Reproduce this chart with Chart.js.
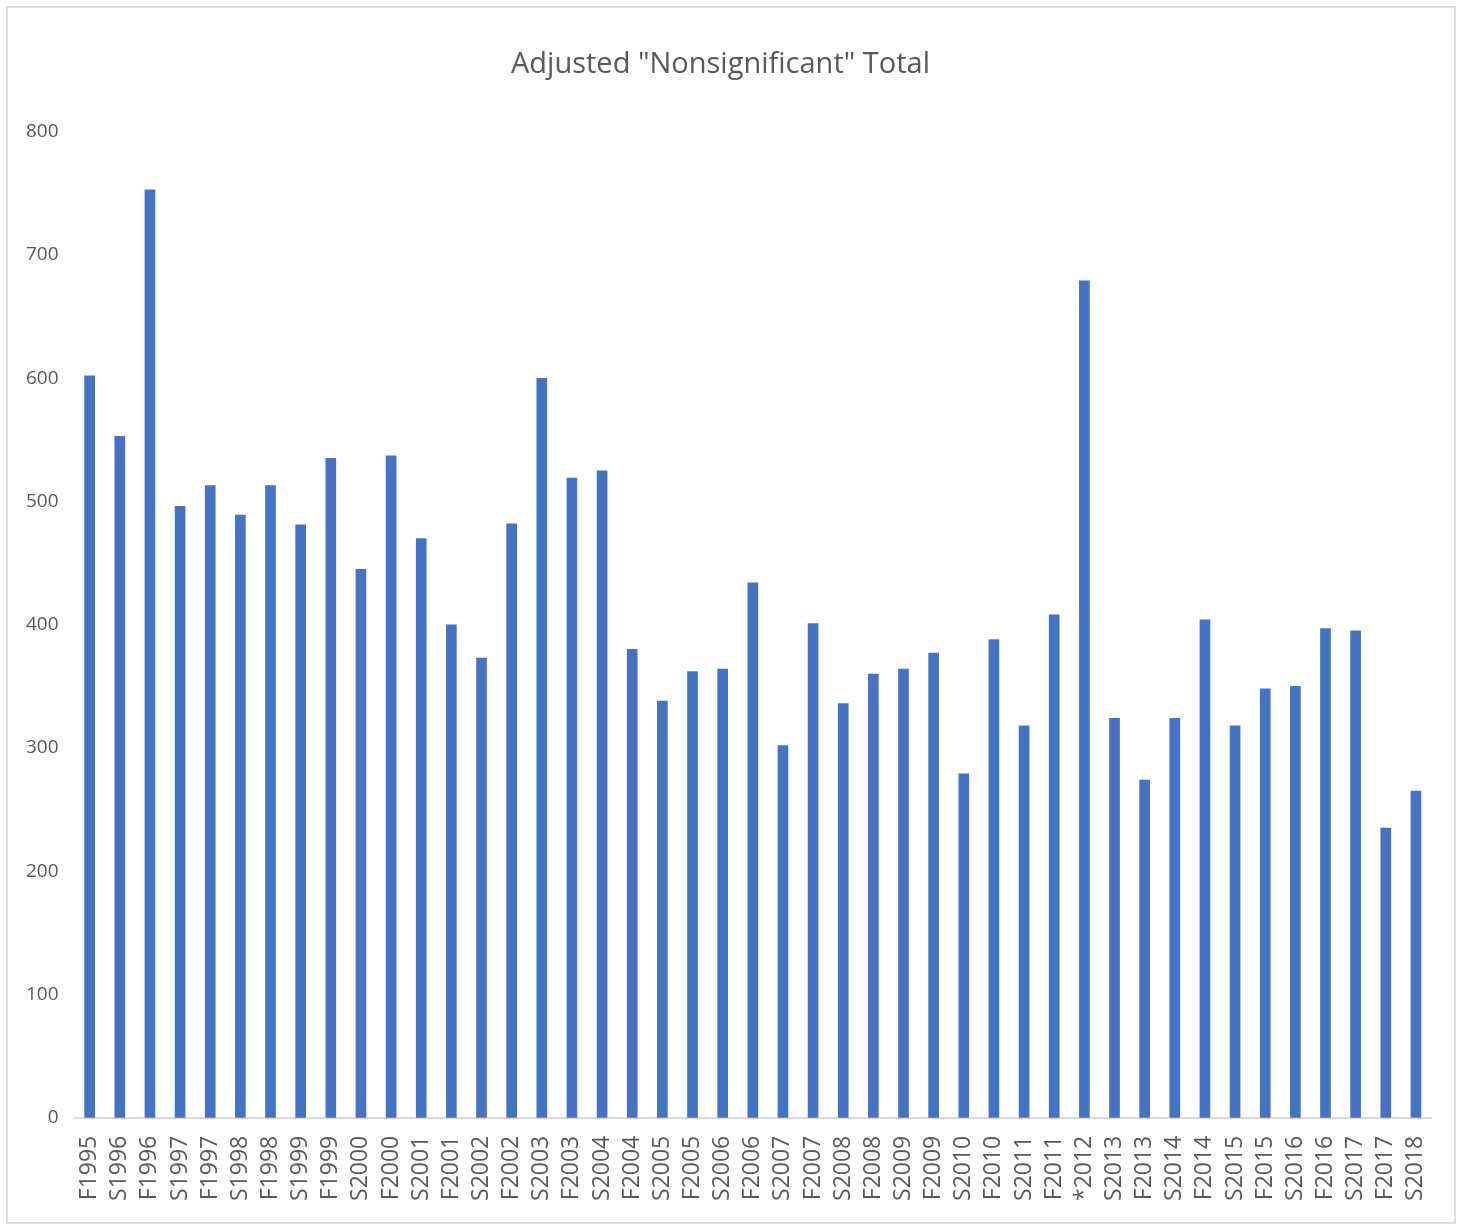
<!DOCTYPE html>
<html>
<head>
<meta charset="utf-8">
<script src="https://cdn.jsdelivr.net/npm/chart.js@4"></script>
<style>
  body { margin: 0; background: #fff; }
  #frame {
    position: absolute; left: 6px; top: 6px;
    width: 1450px; height: 1218px;
    border: 2px solid #dcdcdc; box-sizing: border-box;
  }
  #myChart { display: block; }
</style>
</head>
<body>
<div id="frame"><canvas id="myChart" width="1446" height="1214"></canvas></div>
<script>
const terms = ['F1995', 'S1996', 'F1996', 'S1997', 'F1997', 'S1998', 'F1998', 'S1999', 'F1999', 'S2000',
  'F2000', 'S2001', 'F2001', 'S2002', 'F2002', 'S2003', 'F2003', 'S2004', 'F2004', 'S2005',
  'F2005', 'S2006', 'F2006', 'S2007', 'F2007', 'S2008', 'F2008', 'S2009', 'F2009', 'S2010',
  'F2010', 'S2011', 'F2011', '*2012', 'S2013', 'F2013', 'S2014', 'F2014', 'S2015', 'F2015',
  'S2016', 'F2016', 'S2017', 'F2017', 'S2018'];
const totals = [602, 553, 753, 496, 513, 489, 513, 481, 535, 445,
  537, 470, 400, 373, 482, 600, 519, 525, 380, 338,
  362, 364, 434, 302, 401, 336, 360, 364, 377, 279,
  388, 318, 408, 679, 324, 274, 324, 404, 318, 348,
  350, 397, 395, 235, 265];
const yTicks = [0, 100, 200, 300, 400, 500, 600, 700, 800];

const ctx = document.getElementById('myChart').getContext('2d');
new Chart(ctx, {
  type: 'bar',
  data: {
    labels: terms,
    datasets: [{
      label: 'Adjusted "Nonsignificant" Total',
      data: totals,
      backgroundColor: '#4472c4',
      borderWidth: 0,
      barThickness: 10
    }]
  },
  options: {
    responsive: false,
    animation: false,
    layout: { padding: { left: 2, right: 23, top: 10, bottom: 3 } },
    plugins: {
      legend: { display: false },
      tooltip: { enabled: false },
      title: {
        display: true,
        text: 'Adjusted "Nonsignificant" Total',
        color: '#595959',
        font: { family: 'Open Sans', size: 29, weight: 'normal' },
        padding: { top: 29, bottom: 50 }
      }
    },
    scales: {
      y: {
        min: 0,
        max: 800,
        afterBuildTicks: axis => { axis.ticks = yTicks.map(v => ({ value: v })); },
        grid: { display: false, drawTicks: false },
        border: { display: false },
        ticks: {
          color: '#595959',
          padding: 16,
          font: { family: 'Open Sans', size: 19 }
        }
      },
      x: {
        afterFit: axis => { axis.paddingRight = 0; },
        grid: { display: false, drawTicks: false },
        border: { display: true, color: '#d9d9d9', width: 2 },
        ticks: {
          autoSkip: false,
          maxRotation: 90,
          minRotation: 90,
          color: '#595959',
          padding: 18,
          font: { family: 'Open Sans', size: 23 }
        }
      }
    }
  }
});
</script>
</body>
</html>
